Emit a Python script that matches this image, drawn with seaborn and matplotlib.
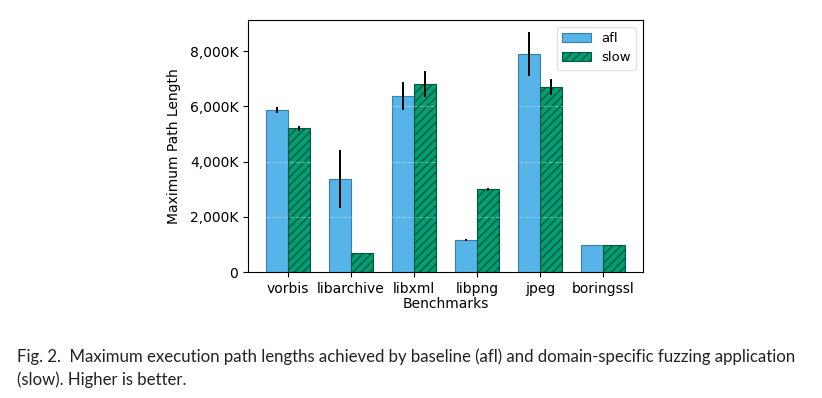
import matplotlib
matplotlib.use("Agg")
import matplotlib.pyplot as plt
import seaborn as sns
import pandas as pd
from matplotlib.ticker import FuncFormatter

benchmarks = ["vorbis", "libarchive", "libxml", "libpng", "jpeg", "boringssl"]
afl_values = [5860, 3360, 6390, 1170, 7890, 975]
afl_errors = [100, 1050, 510, 30, 790, 0]
slow_values = [5200, 690, 6810, 3000, 6710, 975]
slow_errors = [100, 0, 460, 60, 300, 0]
series = ["afl", "slow"]
yticks = [0, 2000, 4000, 6000, 8000]

df = pd.DataFrame({
    "Benchmarks": benchmarks * 2,
    "value": afl_values + slow_values,
    "err": afl_errors + slow_errors,
    "tool": ["afl"] * len(benchmarks) + ["slow"] * len(benchmarks),
})

sns.set_style("ticks")
plt.rcParams["font.family"] = ["DejaVu Sans"]
plt.rcParams["text.color"] = "black"
plt.rcParams["axes.labelcolor"] = "black"
plt.rcParams["xtick.color"] = "black"
plt.rcParams["ytick.color"] = "black"

fig = plt.figure(figsize=(8.22, 3.98), dpi=100)
ax = fig.add_axes([248 / 822, 1 - 272 / 398, 395 / 822, 252 / 398])

palette = {"afl": "#56B4E9", "slow": "#029E73"}
sns.barplot(data=df, x="Benchmarks", y="value", hue="tool", hue_order=series,
            palette=palette, width=0.7, errorbar=None, saturation=1.0, ax=ax,
            linewidth=0.8, legend=False)

edge = {"afl": "#3b7fa6", "slow": "#01583f"}
handles = []
for container, name in zip(ax.containers, series):
    sub = df[df["tool"] == name]
    xs, ys = [], []
    for patch in container.patches:
        patch.set_edgecolor(edge[name])
        if name == "slow":
            patch.set_hatch("////")
        xs.append(patch.get_x() + patch.get_width() / 2)
        ys.append(patch.get_height())
    handles.append(container.patches[0])
    errs = sub["err"].tolist()
    sel = [i for i, e in enumerate(errs) if e > 0]
    ax.errorbar([xs[i] for i in sel], [ys[i] for i in sel],
                yerr=[errs[i] for i in sel], fmt="none", ecolor="black",
                elinewidth=1.4, capsize=0, zorder=5)

for spine in ax.spines.values():
    spine.set_visible(True)
    spine.set_color("black")
    spine.set_linewidth(0.8)

ax.set_xlim(-0.635, 5.635)
ax.set_ylim(0, 9130)
ax.set_yticks(yticks)
ax.yaxis.set_major_formatter(FuncFormatter(lambda v, p: f"{v:,.0f}K" if v else "0"))
ax.yaxis.grid(True, color="white", alpha=0.35, linestyle="--", linewidth=0.8)
ax.set_axisbelow(False)
ax.tick_params(labelsize=10, length=3.5, width=0.8, color="black", labelcolor="black")
ax.set_xlabel("Benchmarks", fontsize=10, labelpad=1, color="black")
ax.set_ylabel("Maximum Path Length", fontsize=10, labelpad=6, color="black")

leg = ax.legend(handles=handles, labels=series, loc="upper right",
                fontsize=9.5, frameon=True, handlelength=2.2)
leg.get_frame().set_edgecolor("#dddddd")
for t in leg.get_texts():
    t.set_color("black")

caption_font = ["Lato", "DejaVu Sans"]
fig.text(17 / 822, 1 - 357 / 398,
         "Fig. 2.  Maximum execution path lengths achieved by baseline (afl) and domain-specific fuzzing application",
         fontsize=12.1, family=caption_font, va="center", ha="left", color="#222222")
fig.text(17 / 822, 1 - 380 / 398, "(slow). Higher is better.",
         fontsize=12.1, family=caption_font, va="center", ha="left", color="#222222")

fig.savefig("out.png", dpi=100)
